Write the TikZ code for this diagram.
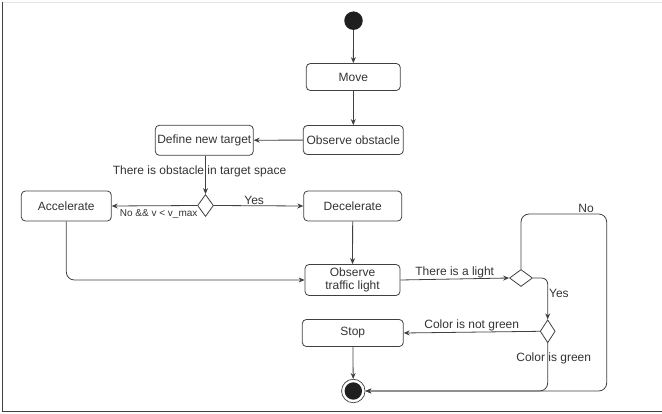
\documentclass[tikz,border=0pt]{standalone}
\usepackage{fontspec}
\setmainfont{Liberation Sans}
\usetikzlibrary{shapes.geometric,arrows.meta}
\definecolor{linegray}{HTML}{404040}
\definecolor{textgray}{HTML}{333333}

\begin{document}
\begin{tikzpicture}[x=1pt,y=-1pt,
    activity/.style={draw=linegray, line width=0.8pt, rounded corners=4pt, inner sep=1pt,
      text=textgray, font=\fontsize{12}{13.5}\selectfont, align=center},
    decision/.style={draw=linegray, line width=0.8pt, diamond, inner sep=0pt},
    flow/.style={draw=linegray, line width=0.8pt, -{Stealth[length=6pt,width=5pt]}},
    lbl/.style={text=textgray, font=\fontsize{12}{13.5}\selectfont, inner sep=1pt},
  ]
  \useasboundingbox (0,0) rectangle (662,414);
  % frame
  \draw[black!10, line width=0.8pt] (2.5,2.3) -- (662,2.3);
  \draw[black!75, line width=1.3pt] (2.5,2.3) -- (2.5,411.8) -- (662,411.8);

  % initial and final state
  \node[circle, fill=black!88, minimum size=18.5pt, inner sep=0pt] (start) at (353.5,20.7) {};
  \node[circle, draw=linegray, line width=0.7pt, minimum size=23.5pt, inner sep=0pt] (end) at (353.3,391) {};
  \fill[black!88] (end.center) circle (8.7);

  % activities
  \node[activity, minimum width=94pt, minimum height=27pt] (move) at (353.3,77) {Move};
  \node[activity, minimum width=100pt, minimum height=29pt] (obstacle) at (353.3,140) {Observe obstacle};
  \node[activity, minimum width=98pt, minimum height=30pt] (target) at (204.3,140.3) {Define new target};
  \node[activity, minimum width=90pt, minimum height=30pt] (accel) at (66.3,206) {Accelerate};
  \node[activity, minimum width=98pt, minimum height=30pt] (decel) at (352.7,206) {Decelerate};
  \node[activity, minimum width=95pt, minimum height=31pt] (light) at (352.5,280) {Observe\\traffic light};
  \node[activity, minimum width=101pt, minimum height=27pt] (stop) at (352.8,333) {Stop};

  % decisions
  \node[decision, minimum width=16pt, minimum height=22pt] (space) at (205.5,205.5) {};
  \node[decision, minimum width=23pt, minimum height=17pt] (islight) at (521,278) {};
  \node[decision, minimum width=15pt, minimum height=23pt] (color) at (547.7,331.3) {};

  \coordinate (loopW) at (521,214);
  \coordinate (loopE) at (606.7,214);

  % connectors
  \draw[flow] (start) -- (move);
  \draw[flow] (move) -- (obstacle);
  \draw[flow] (obstacle) -- (target);
  \draw[flow] (target.south -| space.north) -- node[lbl, pos=0.4, xshift=-6pt] {There is obstacle in target space} (space.north);
  \draw[flow] (space.west) -- node[lbl, below=2.5pt, pos=0.45, font=\fontsize{10}{12}\selectfont] {No \&\& v < v\_max} (accel.east);
  \draw[flow] (space.east) -- node[lbl, above, pos=0.45] {Yes} (decel.west);
  \draw[flow] (decel) -- (light);
  \draw[flow, rounded corners=8pt] (accel.south) |- (light.west);
  \draw[flow] (light.east) -- node[lbl, above] {There is a light} (islight.west);
  \draw[flow, rounded corners=8pt] (islight.north) -- (loopW) -- node[lbl, above, pos=0.76] {No} (loopE) |- (end.east);
  \draw[flow, rounded corners=6pt] (islight.east) -| node[lbl, right, pos=0.69] {Yes} (color.north);
  \draw[flow] (color.west) -- node[lbl, above] {Color is not green} (stop.east);
  \draw[flow, rounded corners=8pt] (color.south) |- node[lbl, pos=0.16, xshift=6pt] {Color is green} (end.east);
  \draw[flow] (stop) -- (end);
\end{tikzpicture}
\end{document}
